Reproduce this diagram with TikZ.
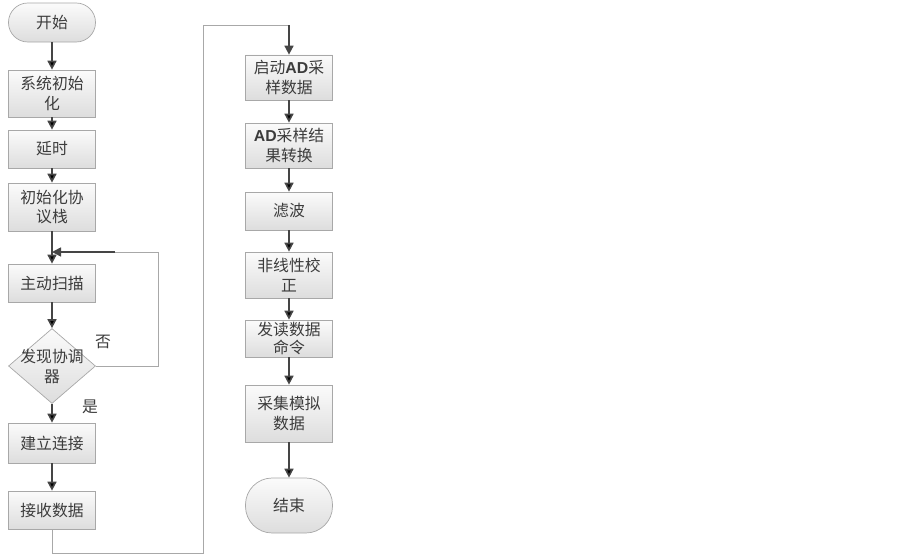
\documentclass[tikz,border=0pt]{standalone}
\usepackage{fontspec}
\setmainfont{Noto Sans CJK SC}
\newfontfamily\adfont{Liberation Sans}
\usetikzlibrary{arrows.meta,shapes.geometric}
\definecolor{txtgray}{HTML}{3C3C3C}
\definecolor{linegray}{HTML}{A8A8A8}
\definecolor{arrowgray}{HTML}{454545}
\definecolor{boxtop}{HTML}{FBFBFB}
\definecolor{boxbottom}{HTML}{DDDDDD}
\tikzstyle{txt} = [text=txtgray, align=center, font=\fontsize{13.5pt}{17pt}\selectfont]
\tikzstyle{proc} = [txt, draw=linegray, line width=0.6pt, top color=boxtop, bottom color=boxbottom, minimum width=2.61cm, inner sep=1pt]
\tikzstyle{term} = [proc, rounded corners=0.58cm]
\tikzstyle{decision} = [diamond, draw=linegray, line width=0.6pt, top color=boxtop, bottom color=boxbottom, inner sep=0pt, minimum width=2.61cm, minimum height=2.25cm]
\tikzstyle{flow} = [draw=arrowgray, line width=1.4pt, -{Triangle[length=0.27cm,width=0.27cm]}]
\tikzstyle{wire} = [draw=linegray, line width=0.6pt]
\newcommand{\AD}{{\adfont\bfseries AD}}

\begin{document}
\begin{tikzpicture}[x=0.03cm, y=-0.03cm]
    \useasboundingbox (0,0) rectangle (903,559);
    % left column
    \node[term, minimum height=1.17cm] (start) at (52,22.5) {开始};
    \node[proc, minimum height=1.41cm] (init) at (52,93.5) {系统初始\\化};
    \node[proc, minimum height=1.14cm] (delay) at (52,149) {延时};
    \node[proc, minimum height=1.44cm] (stack) at (52,207) {初始化协\\议栈};
    \node[proc, minimum height=1.14cm] (scan) at (52,283) {主动扫描};
    \node[decision] (decide) at (52,366) {};
    \node[txt] (decidetext) at (decide) {发现协调\\器};
    \node[proc, minimum height=1.2cm] (conn) at (52,443) {建立连接};
    \node[proc, minimum height=1.14cm] (recv) at (52,510) {接收数据};
    % right column
    \node[proc, minimum height=1.35cm] (adstart) at (289,77.5) {启动\AD 采\\样数据};
    \node[proc, minimum height=1.35cm] (adconv) at (289,145.5) {\AD 采样结\\果转换};
    \node[proc, minimum height=1.14cm] (filter) at (289,211) {滤波};
    \node[proc, minimum height=1.38cm] (nonlin) at (289,275) {非线性校\\正};
    \node[proc, minimum height=1.11cm, font=\fontsize{13.5pt}{15pt}\selectfont] (readcmd) at (289,338.5) {发读数据\\命令};
    \node[proc, minimum height=1.71cm] (collect) at (289,413.5) {采集模拟\\数据};
    \node[term, minimum height=1.65cm, rounded corners=0.8cm] (end) at (289,505.5) {结束};
    % labels
    \node[txt] (no) at (103,342) {否};
    \node[txt] (yes) at (90,407) {是};
    % corners of the wires
    \coordinate (loopR) at (158,366);
    \coordinate (loopTop) at (158,252);
    \coordinate (loopMid) at (115,252);
    \coordinate (loopIn) at (52,252);
    \coordinate (botL) at (52,553);
    \coordinate (botR) at (203,553);
    \coordinate (topR) at (289,25);
    \draw[flow]
    (start) edge (init)
    (init) edge (delay)
    (delay) edge (stack)
    (stack) edge (scan)
    (scan) edge (decide)
    (decide) edge (conn)
    (conn) edge (recv)
    (adstart) edge (adconv)
    (adconv) edge (filter)
    (filter) edge (nonlin)
    (nonlin) edge (readcmd)
    (readcmd) edge (collect)
    (collect) edge (end)
    ;
    \draw[wire] (decide.east) -- (loopR) -- (loopTop) -- (loopMid);
    \draw[flow] (loopMid) -- (loopIn);
    \draw[wire] (recv.south) -- (botL) -- (botR) |- (topR);
    \draw[flow] (topR) -- (adstart.north);
\end{tikzpicture}
\end{document}
